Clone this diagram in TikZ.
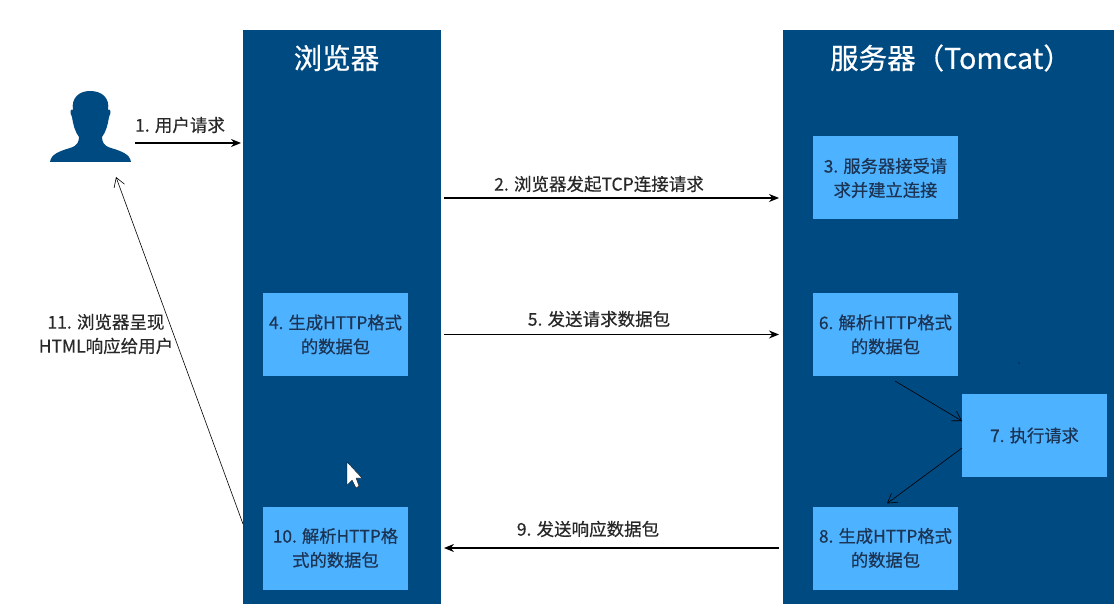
\documentclass[tikz,border=0pt]{standalone}
\usepackage{fontspec}
\setmainfont[FakeBold=0.5]{Noto Sans CJK SC}
\usepackage{xcolor}
\definecolor{primary}{RGB}{0,74,130}
\definecolor{secondary}{RGB}{77,178,255}
\definecolor{boxtext}{RGB}{28,52,84}
\definecolor{labeltext}{RGB}{40,40,40}
\usetikzlibrary{arrows.meta,positioning}

\begin{document}
\begin{tikzpicture}[
  x=1pt,y=-1pt,
  panel/.style={rectangle,fill=primary,minimum width=#1,minimum height=574pt,
                inner sep=0pt,outer sep=0pt},
  title/.style={text=white,font=\fontsize{28.5}{32}\selectfont},
  stage/.style={rectangle,fill=secondary,text=boxtext,align=center,
                minimum width=145pt,minimum height=83pt,inner sep=0pt,outer sep=0pt,
                font=\fontsize{17.3}{24}\selectfont},
  lbl/.style={text=labeltext,align=center,inner sep=0pt,
              font=\fontsize{17.5}{24}\selectfont},
  arr/.style={-{Stealth[length=10pt,width=8pt]},line width=1.2pt,color=black},
  thinarr/.style={-{Straight Barb[length=9pt,width=11pt]},line width=0.6pt,color=black}
]
  \useasboundingbox (0,0) rectangle (1114,604);

  % Colonnes
  \node[panel=198pt] (brw) at (342,317) {};
  \node[panel=331pt] (srv) at (948.5,317) {};
  \node[title] (tbrw) at (336.5,58) {浏览器};
  \node[title] (tsrv) at (951,58) {服务器（Tomcat）};

  % Utilisateur
  \node[minimum width=81pt,minimum height=72pt,inner sep=0pt] (usr) at (90.5,127) {};
  \fill[primary] (50,162) .. controls (51,154) and (60,151) .. (70,148)
    .. controls (77,146) and (79,142) .. (79,137)
    .. controls (75,132) and (73,124) .. (72,117)
    .. controls (69,112) and (71,108) .. (73,110)
    .. controls (71,98) and (79,91) .. (90,91)
    .. controls (102,91) and (110,98) .. (108,110)
    .. controls (110,108) and (112,112) .. (109,117)
    .. controls (108,124) and (106,132) .. (102,137)
    .. controls (102,142) and (104,146) .. (111,148)
    .. controls (121,151) and (130,154) .. (131,162) -- cycle;

  % Boites
  \node[stage] (p3) at (885.5,178) {3. 服务器接受请\\求并建立连接};
  \node[stage] (p4) at (335.5,334.5) {4. 生成HTTP格式\\的数据包};
  \node[stage] (p6) at (885.5,334.5) {6. 解析HTTP格式\\的数据包};
  \node[stage] (p7) at (1034.5,435.5) {7. 执行请求};
  \node[stage] (p8) at (885.5,548) {8. 生成HTTP格式\\的数据包};
  \node[stage] (p10) at (335.5,548) {10. 解析HTTP格\\式的数据包};

  % Textes
  \node[lbl] (l1) at (180,125) {1. 用户请求};
  \node[lbl] (l2) at (599,184) {2. 浏览器发起TCP连接请求};
  \node[lbl] (l5) at (599,319) {5. 发送请求数据包};
  \node[lbl] (l9) at (588,529) {9. 发送响应数据包};
  \node[lbl] (l11) at (106,334) {11. 浏览器呈现\\HTML响应给用户};

  % Points libres
  \coordinate (a1) at (135,143);
  \coordinate (a2) at (600,198);
  \coordinate (a11) at (200,524);
  \coordinate (u11) at (116,177);

  % Fleches
  \draw[arr,shorten >=2pt] (a1) -- (brw.west |- a1);
  \draw[arr,shorten <=3pt,shorten >=4pt] (brw.east |- a2) -- (srv.west |- a2);
  \draw[arr,shorten <=3pt,shorten >=4pt] (brw.east |- p4) -- (srv.west |- p6);
  \draw[arr,shorten <=4pt,shorten >=3pt] (srv.west |- p8) -- (brw.east |- p10);
  \draw[thinarr] (brw.west |- a11) -- (u11);
  \draw[thinarr] ([xshift=9.5pt,yshift=-5pt]p6.south) -- ([yshift=14.5pt]p7.west);
  \draw[thinarr] ([yshift=-12.5pt]p7.west) -- ([xshift=1.5pt,yshift=3pt]p8.north);

  % Curseur
  \fill[white,draw=black,line width=0.3pt] (347,462) -- (347,485) -- (352,480)
    -- (356,488) -- (359,486) -- (356,478) -- (362,478) -- cycle;
  \fill[black] (1019,363) circle (0.7pt);

\end{tikzpicture}
\end{document}
